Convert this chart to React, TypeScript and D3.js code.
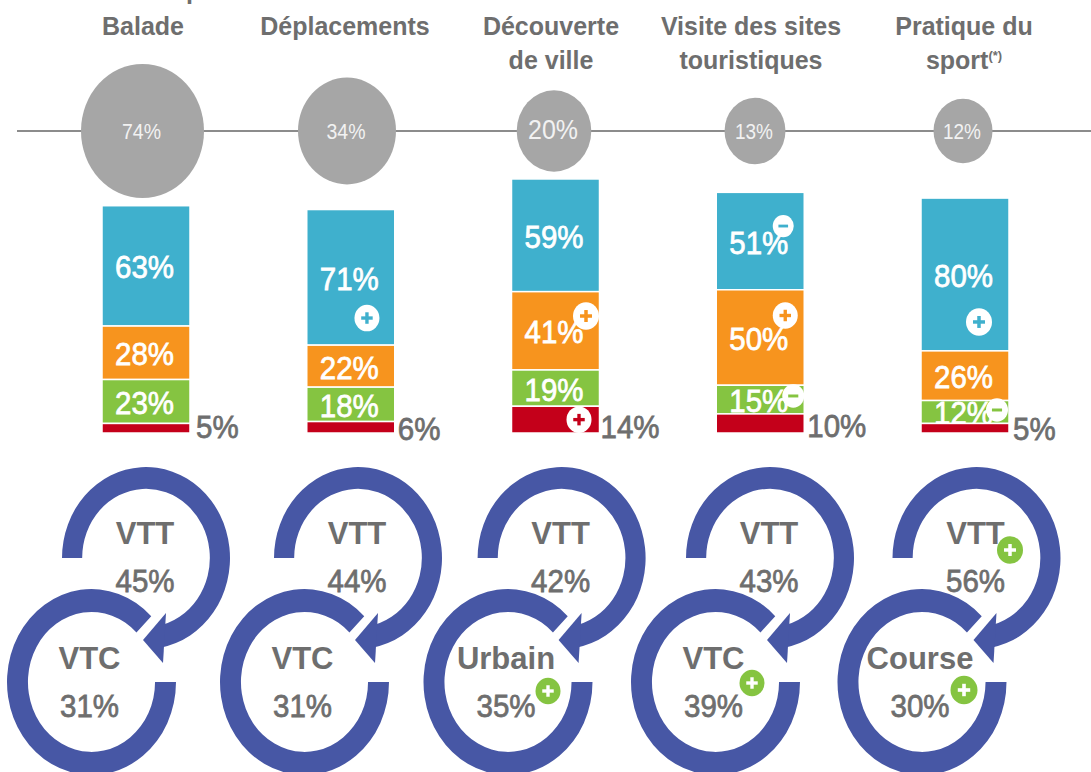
import React from 'react';
import * as d3 from 'd3';

const categories = ['Balade', 'Déplacements', 'Découverte de ville', 'Visite des sites touristiques', 'Pratique du sport'];
const titleLines = [['Balade'], ['Déplacements'], ['Découverte', 'de ville'], ['Visite des sites', 'touristiques'], ['Pratique du', 'sport']];
const usage = [74, 34, 20, 13, 12];

const seriesA = [63, 71, 59, 51, 80];
const seriesB = [28, 22, 41, 50, 26];
const seriesC = [23, 18, 19, 15, 12];
const seriesD = [5, 6, 14, 10, 5];
const seriesColors = ['#3fb0cd', '#f7941e', '#85c441', '#c4001a'];

const firstBike = ['VTT', 'VTT', 'VTT', 'VTT', 'VTT'];
const firstShare = [45, 44, 42, 43, 56];
const secondBike = ['VTC', 'VTC', 'Urbain', 'VTC', 'Course'];
const secondShare = [31, 31, 35, 39, 30];

// [column, series, sign] of the white badges on the bars
const barBadges: [number, number, string][] = [
  [1, 0, '+'], [2, 1, '+'], [2, 3, '+'], [3, 0, '-'], [3, 1, '+'], [3, 2, '-'], [4, 0, '+'], [4, 2, '-'],
];
// [column, ring] of the green badges on the rings
const ringBadges: [number, number][] = [[2, 1], [3, 1], [4, 0], [4, 1]];

const WIDTH = 1091;
const HEIGHT = 772;
const GREY = '#6e6e6e';
const RING = '#4757a5';
const GREEN = '#85c441';
const FONT = '"Liberation Sans", Arial, sans-serif';
const BAR_W = 88;
const TOP_Y = 558;
const LOW_Y = 682;

const x = d3.scalePoint<string>().domain(categories).range([146, 965]);
const y = d3.scaleLinear().domain([0, 100]).range([433, 242]);

const titleX = d3.scaleOrdinal<string, number>().domain(categories).range([143, 345, 551, 751, 964]);
const bubbleX = d3.scaleOrdinal<string, number>().domain(categories).range([142.5, 347, 554, 755, 963]);
const bubbleRx = d3.scaleLinear().domain([12, 20, 34, 74]).range([29.5, 37.3, 49, 61.5]);
const ringTopX = d3.scaleOrdinal<string, number>().domain(categories).range([146, 358, 561.6, 770, 976.5]);
const ringLowX = d3.scaleOrdinal<string, number>().domain(categories).range([91.5, 304.5, 508, 715.5, 922]);

const valuesByKey: Record<string, number[]> = { a: seriesA, b: seriesB, c: seriesC, d: seriesD };
const stacked = d3.stack<number>().keys(['d', 'c', 'b', 'a'])
  .value((i, key) => valuesByKey[key][i])(categories.map((_, i) => i));
// top to bottom, so that the red bar is drawn last
const layers = [stacked[3], stacked[2], stacked[1], stacked[0]];

// unit arcs, stretched to the ellipse by a transform
const topArc = d3.arc()({ innerRadius: 0.76, outerRadius: 1, startAngle: -Math.PI / 2, endAngle: (170 / 180) * Math.PI } as any)!;
const lowArc = d3.arc()({ innerRadius: 0.752, outerRadius: 1, startAngle: Math.PI / 2, endAngle: 2 * Math.PI + Math.PI / 4 } as any)!;
const arrowHead = d3.line()([[-3, 82], [20, 55], [17, 105]]) + 'Z';

const bubbleFont = [22, 22, 28, 22, 22];
const bubbleLen = [39, 39, 50, 38, 38];
const sideDx = [6, 3, 1, 3, 4];
const sideY = [438, 440, 438, 437, 440];
// badge offset from the middle of its segment, and radius
const barOffsets: Record<string, [number, number, number]> = {
  '1-0': [16.2, 40.7, 12.5], '2-1': [30.5, -14.8, 13], '2-3': [23.5, 0, 12.5], '3-0': [23, -15, 10.5],
  '3-1': [25, -22, 12.5], '3-2': [33, -3.6, 11], '4-0': [14, 47.5, 13], '4-2': [32, -2, 11],
};
const ringOffsets: Record<string, [number, number, number]> = {
  '2-1': [40, 9, 12.5], '3-1': [36.5, 1, 12.5], '4-0': [33.5, -8, 13], '4-1': [42, 8, 13.5],
};

function Badge({ cx, cy, r, fill, mark, sign }: { cx: number; cy: number; r: number; fill: string; mark: string; sign: string }) {
  const a = r * 0.46;
  const w = r * 0.27;
  return (
    <g>
      <ellipse cx={cx} cy={cy} rx={r} ry={r * 1.06} fill={fill} />
      <line x1={cx - a} x2={cx + a} y1={cy} y2={cy} stroke={mark} strokeWidth={w} />
      {sign === '+' && <line x1={cx} x2={cx} y1={cy - a} y2={cy + a} stroke={mark} strokeWidth={w} />}
    </g>
  );
}

// the percentages are a little taller and lighter than plain bold
function Pct({ px, py, color, anchor, children }: { px: number; py: number; color: string; anchor?: string; children: React.ReactNode }) {
  return (
    <text transform={`translate(${px},${py}) scale(1,1.08)`} textAnchor={anchor ?? 'middle'} fontSize={29.5}
      fontWeight="normal" fill={color} stroke={color} strokeWidth={0.7}>
      {children}
    </text>
  );
}

export default function App() {
  return (
    <svg width={WIDTH} height={HEIGHT} style={{ position: 'absolute', left: 0, top: 0 }} fontFamily={FONT} fontWeight="bold">
      <text x={186} y={-1} fontSize={25} fill={GREY}>p</text>
      <line x1={17} x2={WIDTH} y1={131} y2={131} stroke="#8c8c8c" strokeWidth={2} />

      {categories.map((c, i) => {
        const rx = bubbleRx(usage[i]);
        return (
          <g key={c}>
            {titleLines[i].map((t, k) => (
              <text key={t} x={titleX(c)} y={35 + k * 34} textAnchor="middle" fontSize={25} fill={GREY}>
                {t}
                {i === 4 && k === 1 && <tspan fontSize={13} dy={-9}>(*)</tspan>}
              </text>
            ))}
            <ellipse cx={bubbleX(c)} cy={131} rx={rx} ry={rx * 1.09} fill="#a6a6a6" />
            <text x={bubbleX(c)! - 1} y={139} textAnchor="middle" fontSize={bubbleFont[i]} fontWeight="normal" fill="#f2f2f2"
              textLength={bubbleLen[i]} lengthAdjust="spacingAndGlyphs">{usage[i]}%</text>
          </g>
        );
      })}

      {layers.map((layer, s) => (
        <g key={layer.key}>
          {layer.map((d, i) => {
            const mid = (y(d[0]) + y(d[1])) / 2;
            return (
              <g key={i}>
                <rect x={x(categories[i])! - BAR_W / 2} width={BAR_W} y={y(d[1])} height={y(d[0]) - y(d[1])}
                  fill={seriesColors[s]} stroke="#fff" strokeWidth={1.5} />
                {s < 3 && <Pct px={x(categories[i])! - 1.5} py={mid + 12.5} color="#fff">{d[1] - d[0]}%</Pct>}
              </g>
            );
          })}
        </g>
      ))}
      {seriesD.map((v, i) => (
        <Pct key={i} px={x(categories[i])! + BAR_W / 2 + sideDx[i]} py={sideY[i]} color={GREY} anchor="start">{v}%</Pct>
      ))}
      {barBadges.map(([col, s, sign]) => {
        const d = layers[s][col];
        const [dx, dy, r] = barOffsets[`${col}-${s}`];
        return (
          <Badge key={`${col}-${s}`} cx={x(categories[col])! + dx} cy={(y(d[0]) + y(d[1])) / 2 + dy} r={r}
            fill="#fff" mark={seriesColors[s]} sign={sign} />
        );
      })}

      {categories.map((c, i) => (
        <g key={c} fill={RING}>
          <g transform={`translate(${ringTopX(c)},${TOP_Y})`}>
            <path d={topArc} transform="scale(84,91)" />
            <path d={arrowHead} />
          </g>
          <path d={lowArc} transform={`translate(${ringLowX(c)},${LOW_Y}) scale(84.5,93)`} />
          <g fill={GREY} fontSize={31} textAnchor="middle">
            <text x={ringTopX(c)! - 1} y={544}>{firstBike[i]}</text>
            <Pct px={ringTopX(c)! - 1} py={592} color={GREY}>{firstShare[i]}%</Pct>
            <text x={ringLowX(c)! - 2} y={669}>{secondBike[i]}</text>
            <Pct px={ringLowX(c)! - 2} py={717} color={GREY}>{secondShare[i]}%</Pct>
          </g>
        </g>
      ))}
      {ringBadges.map(([col, ring]) => {
        const c = categories[col];
        const [dx, dy, r] = ringOffsets[`${col}-${ring}`];
        const cx = ring === 0 ? ringTopX(c)! : ringLowX(c)!;
        return <Badge key={`${col}-${ring}`} cx={cx + dx} cy={(ring === 0 ? TOP_Y : LOW_Y) + dy} r={r} fill={GREEN} mark="#fff" sign="+" />;
      })}
    </svg>
  );
}
